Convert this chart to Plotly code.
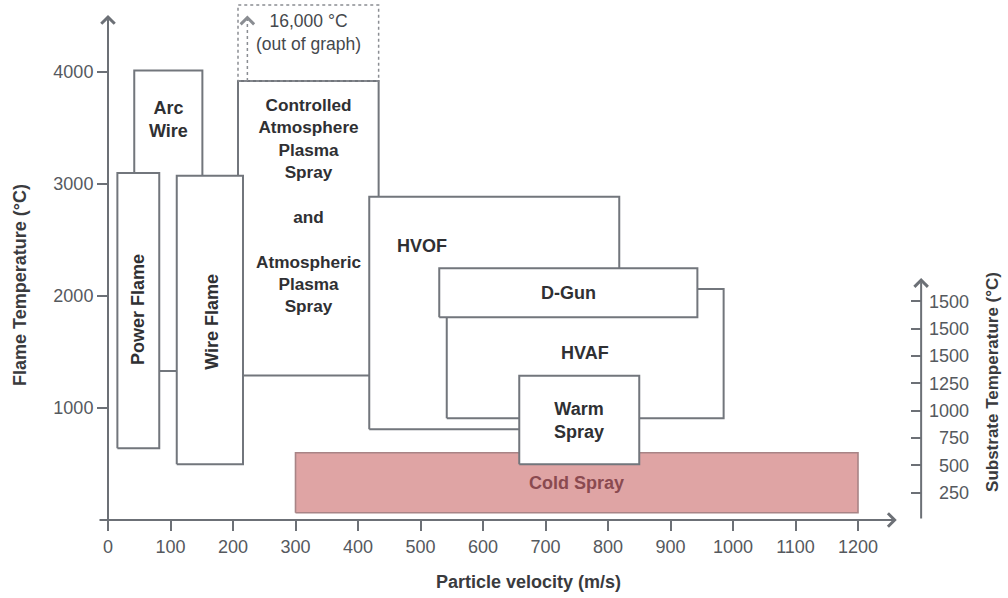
import plotly.graph_objects as go

# ---------------- data (velocity m/s, flame temperature °C) ----------------
box_names = ["Arc Wire", "Plasma", "Power Flame", "Wire Flame", "HVOF",
             "HVAF", "D-Gun", "Cold Spray", "Warm Spray"]
box_x0 = [42, 208, 15, 110, 418, 542, 530, 300, 658]
box_x1 = [151, 433, 82, 216, 818, 985, 943, 1200, 850]
box_y0 = [1330, 1290, 640, 497, 809, 907, 1808, 65, 497]
box_y1 = [4010, 3916, 3095, 3070, 2884, 2060, 2245, 600, 1287]

label_text = ["Arc<br>Wire",
              "Controlled<br>Atmosphere<br>Plasma<br>Spray<br> <br>and<br> <br>Atmospheric<br>Plasma<br>Spray",
              "Power Flame", "Wire Flame", "HVOF", "HVAF", "D-Gun",
              "Cold Spray", "Warm<br>Spray"]
label_x = [96, 320, 48, 166, 502, 763, 736, 750, 753]
label_y = [3573, 2810, 1873, 1766, 2444, 1487, 2022, 330, 892]
label_angle = [0, 0, -90, -90, 0, 0, 0, 0, 0]
label_size = [18, 17.2, 18, 18, 18, 18, 18, 18, 18]

# plasma "out of graph" range
oog_x = [208, 433]
oog_y = [3916, 4594]
oog_arrow_x = 223
oog_text = "16,000 °C<br>(out of graph)"

x_ticks = [0, 100, 200, 300, 400, 500, 600, 700, 800, 900, 1000, 1100, 1200]
y_ticks = [1000, 2000, 3000, 4000]
sub_tickvals = [0, 250, 500, 750, 1000, 1250, 1500, 1750, 2000]
sub_ticktext = ["", "\u2007250", "\u2007500", "\u2007750", "1000", "1250", "1500", "1500", "1500"]

# ---------------- styling ----------------
FONT = "Liberation Sans, Arial, Helvetica, sans-serif"
LINE = "#72767c"
AXIS = "#6c7076"
TICKC = "#55595e"
TXT = "#2f3033"

X_MAX = 1331.2
Y_MAX = 4612
Y2_MAX = 2214

fig = go.Figure()

for i, name in enumerate(box_names):
    cold = name == "Cold Spray"
    fig.add_trace(go.Scatter(
        x=[box_x0[i], box_x1[i], box_x1[i], box_x0[i], box_x0[i]],
        y=[box_y0[i], box_y0[i], box_y1[i], box_y1[i], box_y0[i]],
        mode="lines", fill="toself",
        fillcolor="#dfa4a4" if cold else "white",
        line=dict(color="#a88486" if cold else LINE, width=1.6 if cold else 2),
        hoverinfo="skip", showlegend=False))

# dotted "out of graph" box
fig.add_trace(go.Scatter(
    x=[oog_x[0], oog_x[1], oog_x[1], oog_x[0], oog_x[0]],
    y=[oog_y[0], oog_y[0], oog_y[1], oog_y[1], oog_y[0]],
    mode="lines", line=dict(color="#8a8d92", width=1.5, dash="dot"),
    hoverinfo="skip", showlegend=False))
fig.add_trace(go.Scatter(
    x=[oog_arrow_x, oog_arrow_x], y=[oog_y[0], 4470],
    mode="lines", line=dict(color="#8a8d92", width=1.5, dash="dot"),
    hoverinfo="skip", showlegend=False))

# dummy trace so the substrate axis exists
fig.add_trace(go.Scatter(x=[X_MAX], y=[0], yaxis="y2", mode="markers",
                         marker=dict(opacity=0), hoverinfo="skip", showlegend=False))

annotations = []
for t, x, y, a, s, n in zip(label_text, label_x, label_y, label_angle, label_size, box_names):
    annotations.append(dict(
        x=x, y=y, xref="x", yref="y", text="<b>" + t + "</b>", showarrow=False,
        textangle=a, xanchor="center", yanchor="middle",
        font=dict(family=FONT, size=s,
                  color="#8a4a50" if n == "Cold Spray" else TXT)))

annotations.append(dict(x=320, y=4349, xref="x", yref="y", text=oog_text,
                        xanchor="center", yanchor="middle",
                        showarrow=False, font=dict(family=FONT, size=17.5, color="#45484c")))
# small arrow head on dotted line
annotations.append(dict(x=oog_arrow_x, y=4500, ax=oog_arrow_x, ay=4440,
                        xref="x", yref="y", axref="x", ayref="y", text="",
                        showarrow=True, arrowhead=4, arrowsize=2.6, arrowwidth=1,
                        arrowcolor="#8a8d92"))

# axis lines with arrow heads
annotations.append(dict(x=0, y=4505, ax=0, ay=-90, xref="x", yref="y", axref="x", ayref="y",
                        text="", showarrow=True, arrowhead=4, arrowsize=1.3, arrowwidth=2,
                        arrowcolor=AXIS))
annotations.append(dict(x=1262, y=0, ax=-16, ay=0, xref="x", yref="y", axref="x", ayref="y",
                        text="", showarrow=True, arrowhead=4, arrowsize=1.3, arrowwidth=2,
                        arrowcolor=AXIS))
annotations.append(dict(x=1301, y=Y2_MAX, ax=1301, ay=0, xref="x", yref="y2", axref="x", ayref="y2",
                        text="", showarrow=True, arrowhead=4, arrowsize=1.3, arrowwidth=2,
                        arrowcolor=AXIS))

# axis titles
annotations.append(dict(x=-0.1058, y=0.4545, xref="paper", yref="paper",
                        xanchor="center", yanchor="middle",
                        text="<b>Flame Temperature (°C)</b>", textangle=-90, showarrow=False,
                        font=dict(family=FONT, size=18, color="#3a3b3e")))
annotations.append(dict(x=0.506, y=-0.12, xref="paper", yref="paper",
                        xanchor="center", yanchor="middle",
                        text="<b>Particle velocity (m/s)</b>", showarrow=False,
                        font=dict(family=FONT, size=18, color="#3a3b3e")))
annotations.append(dict(x=1.0637, y=0.267, xref="paper", yref="paper",
                        xanchor="center", yanchor="middle",
                        text="<b>Substrate Temperature (°C)</b>", textangle=-90, showarrow=False,
                        font=dict(family=FONT, size=17, color="#3a3b3e")))

fig.update_layout(
    width=1008, height=598,
    margin=dict(l=108, r=68, t=3, b=78),
    paper_bgcolor="white", plot_bgcolor="rgba(0,0,0,0)",
    showlegend=False,
    annotations=annotations,
    xaxis=dict(range=[0, X_MAX], showgrid=False, zeroline=False, showline=False,
               tickmode="array", tickvals=x_ticks, ticks="outside", ticklen=10,
               tickwidth=2, tickcolor=AXIS, fixedrange=True,
               tickfont=dict(family=FONT, size=18, color=TICKC)),
    yaxis=dict(range=[0, Y_MAX], showgrid=False, zeroline=False, showline=False,
               tickmode="array", tickvals=y_ticks, ticks="outside", ticklen=10,
               tickwidth=2, tickcolor=AXIS, fixedrange=True,
               tickfont=dict(family=FONT, size=18, color=TICKC)),
    yaxis2=dict(range=[0, Y2_MAX], domain=[0, 0.468], anchor="free", position=0.9772,
                side="right", showgrid=False, zeroline=False, showline=False,
                tickmode="array", tickvals=sub_tickvals, ticktext=sub_ticktext,
                ticks="inside", ticklen=10, tickwidth=2, tickcolor=AXIS, fixedrange=True,
                ticklabelstandoff=7,
                tickfont=dict(family=FONT, size=18, color=TICKC)),
)

fig.write_html("out.html")
